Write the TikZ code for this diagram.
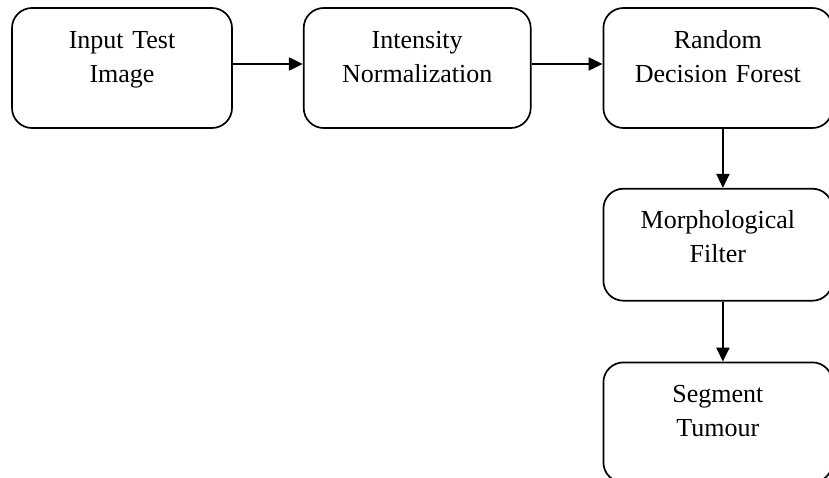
\documentclass[tikz,border=0pt]{standalone}
\usepackage{fontspec}
\setmainfont{Liberation Serif}
\usetikzlibrary{arrows.meta, positioning}

\begin{document}
\begin{tikzpicture}[
        stage/.style={draw, line width=1.7pt, rounded corners=20pt, inner sep=0pt,
            align=center, font=\fontsize{26}{34}\selectfont, text height=40pt},
        flow/.style={-{Triangle[length=14pt, width=13pt]}, line width=2.2pt}
    ]
        \useasboundingbox (0,0) rectangle (829pt,-477pt);

        % Input Test Image
        \node[stage, text width=220pt, text depth=80pt] (input) at (122pt,-68pt) {Input Test\\Image};

        % Intensity Normalization
        \node[stage, text width=227pt, text depth=80pt, right=70pt of input] (norm) {Intensity\\Normalization};

        % Random Decision Forest
        \node[stage, text width=229pt, text depth=80pt, right=71pt of norm] (rdf) {Random\\Decision Forest};

        % Morphological Filter
        \node[stage, text width=229pt, text depth=72pt, below=59pt of rdf] (morph) {Morphological\\Filter};

        % Segment Tumour
        \node[stage, text width=229pt, text depth=80pt, below=60pt of morph] (seg) {Segment\\Tumour};

        % Arrows
        \draw[flow] ([yshift=4pt]input.east) -- ([yshift=4pt]norm.west);
        \draw[flow] ([yshift=4pt]norm.east) -- ([yshift=4pt]rdf.west);
        \draw[flow] ([xshift=5pt]rdf.south) -- ([xshift=5pt]morph.north);
        \draw[flow] ([xshift=5pt]morph.south) -- ([xshift=5pt]seg.north);

    \end{tikzpicture}
\end{document}
